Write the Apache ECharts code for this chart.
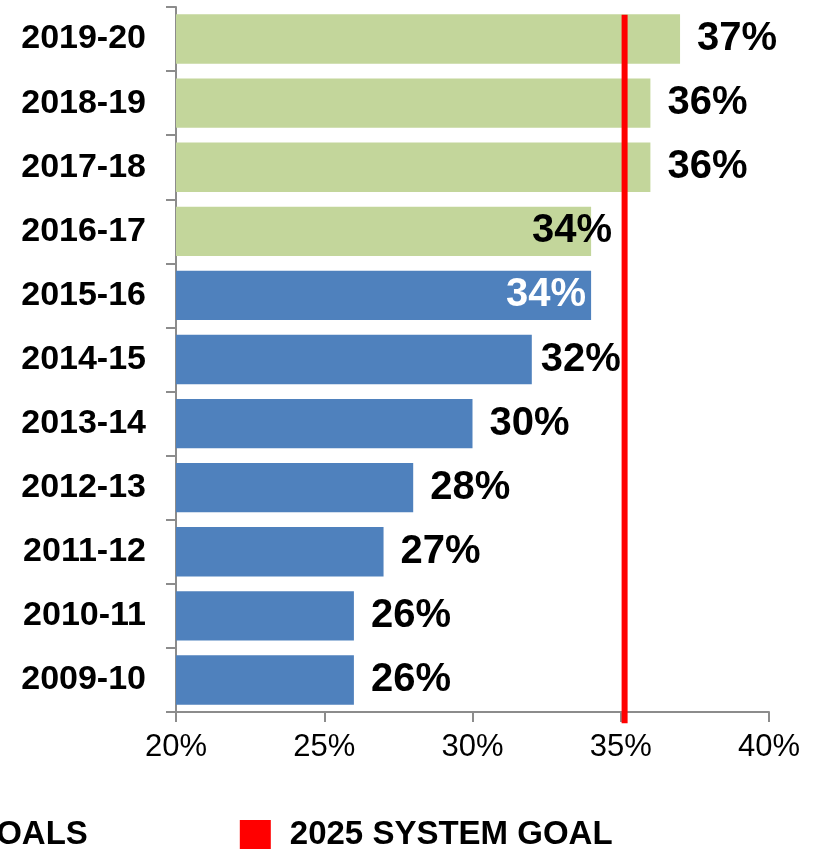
<!DOCTYPE html>
<html>
<head>
<meta charset="utf-8">
<script src="https://cdn.jsdelivr.net/npm/echarts@6/dist/echarts.min.js"></script>
<style>
  html, body { margin: 0; padding: 0; background: #fff; }
  #chart { width: 819px; height: 851px; }
</style>
</head>
<body>
<div id="chart"></div>
<script>
// school years, bottom to top
const years = ['2009-10', '2010-11', '2011-12', '2012-13', '2013-14', '2014-15', '2015-16', '2016-17', '2017-18', '2018-19', '2019-20']
const actual = [26, 26, 27, 28, 30, 32, 34, null, null, null, null]
const interimGoals = [null, null, null, null, null, null, null, 34, 36, 36, 37]
const systemGoal = 35.13
const xTicks = [20, 25, 30, 35, 40]

const FONT = "'Liberation Sans', Arial, sans-serif"

// a few labels sit differently in the original
const labelTweaks = {
  '2014-15': { distance: 9 },
  '2015-16': { position: 'insideRight', distance: 5, color: '#fff' },
  '2016-17': { position: 'insideRight', distance: 5, offset: [26, 0] }
}

function barData(values) {
  return values.map((v, i) => {
    if (v == null) return '-'
    const tweak = labelTweaks[years[i]]
    return tweak ? { value: v, label: tweak } : v
  })
}

const barLabel = {
  show: true,
  position: 'right',
  distance: 17,
  formatter: '{c}%',
  color: '#000',
  fontFamily: FONT,
  fontWeight: 'bold',
  fontSize: 40
}

const chart = echarts.init(document.getElementById('chart'))
chart.setOption({
  animation: false,
  grid: { left: 176, right: 50, top: 7, bottom: 139 },
  // legend is wider than the canvas in the original, only its tail shows
  legend: {
    left: -562,
    top: 818,
    width: 3000,
    padding: 0,
    itemGap: 152,
    itemWidth: 31,
    itemHeight: 29,
    icon: 'rect',
    textStyle: { fontFamily: FONT, fontWeight: 'bold', fontSize: 33, color: '#000', padding: [0, 0, 0, 14] },
    data: [
      { name: 'ACTUAL' },
      { name: 'INTERIM GOALS' },
      { name: '2025 SYSTEM GOAL', itemStyle: { color: '#ff0000' } }
    ]
  },
  xAxis: {
    type: 'value',
    min: xTicks[0],
    max: xTicks[xTicks.length - 1],
    interval: 5,
    axisLine: { show: true, lineStyle: { color: '#8c8c8c', width: 2 } },
    axisTick: { show: true, length: 10, lineStyle: { color: '#8c8c8c', width: 2 } },
    splitLine: { show: false },
    axisLabel: { formatter: '{value}%', margin: 20, color: '#000', fontFamily: FONT, fontSize: 31 }
  },
  yAxis: [
    {
      type: 'category',
      data: years,
      axisLine: { show: true, lineStyle: { color: '#8c8c8c', width: 2 } },
      axisTick: { show: true, length: 10, lineStyle: { color: '#8c8c8c', width: 2 } },
      axisLabel: { margin: 30, color: '#000', fontFamily: FONT, fontWeight: 'bold', fontSize: 34 }
    },
    // hidden helper axis so the goal line can run past the plot edge like the original
    { type: 'value', min: 0, max: 1, show: false }
  ],
  series: [
    {
      name: 'ACTUAL',
      type: 'bar',
      data: barData(actual),
      barCategoryGap: '23%',
      barGap: '-100%',
      itemStyle: { color: '#4f81bd' },
      label: barLabel
    },
    {
      name: 'INTERIM GOALS',
      type: 'bar',
      data: barData(interimGoals),
      barCategoryGap: '23%',
      barGap: '-100%',
      itemStyle: { color: '#c3d69b' },
      label: barLabel
    },
    {
      name: '2025 SYSTEM GOAL',
      type: 'line',
      yAxisIndex: 1,
      clip: false,
      symbol: 'none',
      color: '#ff0000',
      lineStyle: { color: '#ff0000', width: 6 },
      data: [[systemGoal, 0.989], [systemGoal, -0.016]]
    }
  ]
})
</script>
</body>
</html>
